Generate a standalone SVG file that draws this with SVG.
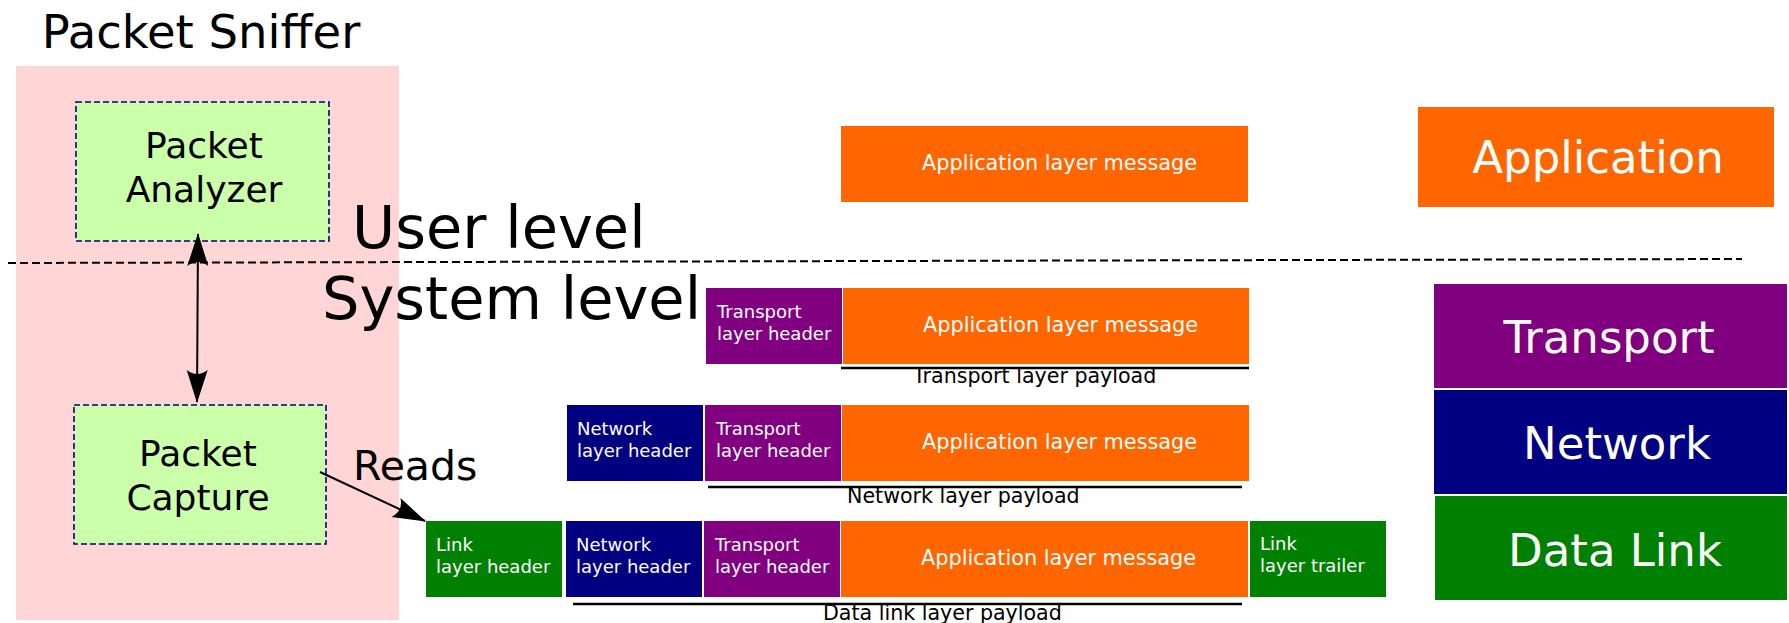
<svg xmlns="http://www.w3.org/2000/svg" width="1789" height="623" viewBox="0 0 1789 623">
<style>
text{font-family:"DejaVu Sans","Liberation Sans",sans-serif}
.big{font-size:59px;fill:#000}
.hdr{font-size:18px;fill:#fff}
.msg{font-size:20.8px;fill:#fff}
.pay{font-size:20.6px;fill:#000}
.layer{font-size:45px;fill:#fff;text-anchor:middle}
.node{font-size:36px;fill:#000;text-anchor:middle}
.comp{fill:#ccffaa;stroke:#000080;stroke-width:1.6;stroke-dasharray:6,3}
.org{fill:#ff6600}.pur{fill:#800080}.nav{fill:#000080}.grn{fill:#008000}
.ul{stroke:#000;stroke-width:2.6}
.conn{stroke:#000;stroke-width:2;fill:none}
</style>
<defs>
<marker id="ah" viewBox="0 0 34 22" refX="33" refY="11" markerWidth="34" markerHeight="22" markerUnits="userSpaceOnUse" orient="auto-start-reverse">
<path d="M34,11 L1,0.5 Q9,11 1,21.5 Z" fill="#000"/>
</marker>
</defs>
<rect id="sniffer" x="16" y="66" width="383" height="554" fill="#ffd5d5"/>
<text x="201" y="48" style="font-size:46.5px;text-anchor:middle">Packet Sniffer</text>
<g id="analyzer">
<rect class="comp" x="76" y="102" width="253" height="139"/>
<text class="node" x="204" y="158">Packet</text>
<text class="node" x="204" y="202">Analyzer</text>
</g>
<g id="capture">
<rect class="comp" x="74" y="405" width="252" height="139"/>
<text class="node" x="198" y="466">Packet</text>
<text class="node" x="198" y="510">Capture</text>
</g>
<line x1="8" y1="263" x2="1742" y2="259" stroke="#000" stroke-width="2" stroke-dasharray="8,4"/>
<text class="big" x="352" y="248">User level</text>
<text class="big" x="322" y="319">System level</text>
<text x="353" y="480" style="font-size:41px">Reads</text>
<g id="connectors">
<line class="conn" x1="198" y1="234" x2="197" y2="402" marker-start="url(#ah)" marker-end="url(#ah)"/>
<line class="conn" x1="320" y1="472" x2="425" y2="521" marker-end="url(#ah)"/>
</g>
<g id="app-msg">
<rect class="org" x="841" y="126" width="407" height="76"/>
<text class="msg" x="922" y="170">Application layer message</text>
</g>
<g id="row-transport">
<rect class="pur" x="706" y="288" width="136" height="76"/>
<text class="hdr" x="717" y="318">Transport</text>
<text class="hdr" x="717" y="340">layer header</text>
<rect class="org" x="843" y="288" width="406" height="76"/>
<text class="msg" x="923" y="332">Application layer message</text>
<line class="ul" x1="841" y1="368" x2="1249" y2="368"/>
<text class="pay" x="913" y="383">Transport layer payload</text>
</g>
<g id="row-network">
<rect class="nav" x="567" y="405" width="136" height="76"/>
<text class="hdr" x="577" y="435">Network</text>
<text class="hdr" x="577" y="457">layer header</text>
<rect class="pur" x="705" y="405" width="136" height="76"/>
<text class="hdr" x="716" y="435">Transport</text>
<text class="hdr" x="716" y="457">layer header</text>
<rect class="org" x="842" y="405" width="407" height="76"/>
<text class="msg" x="922" y="449">Application layer message</text>
<line class="ul" x1="708" y1="487" x2="1242" y2="487"/>
<text class="pay" x="847" y="503">Network layer payload</text>
</g>
<g id="row-datalink">
<rect class="grn" x="426" y="521" width="136" height="76"/>
<text class="hdr" x="436" y="551">Link</text>
<text class="hdr" x="436" y="573">layer header</text>
<rect class="nav" x="566" y="521" width="136" height="76"/>
<text class="hdr" x="576" y="551">Network</text>
<text class="hdr" x="576" y="573">layer header</text>
<rect class="pur" x="704" y="521" width="136" height="76"/>
<text class="hdr" x="715" y="551">Transport</text>
<text class="hdr" x="715" y="573">layer header</text>
<rect class="org" x="841" y="521" width="407" height="76"/>
<text class="msg" x="921" y="565">Application layer message</text>
<rect class="grn" x="1250" y="521" width="136" height="76"/>
<text class="hdr" x="1260" y="550">Link</text>
<text class="hdr" x="1260" y="572">layer trailer</text>
<line class="ul" x1="573" y1="604" x2="1242" y2="604"/>
<text class="pay" x="823" y="620">Data link layer payload</text>
</g>
<g id="layer-application">
<rect class="org" x="1418" y="107" width="356" height="100"/>
<text class="layer" x="1598" y="173">Application</text>
</g>
<g id="layer-transport">
<rect class="pur" x="1434" y="284" width="353" height="104"/>
<text class="layer" x="1609" y="353">Transport</text>
</g>
<g id="layer-network">
<rect class="nav" x="1434" y="390" width="353" height="104"/>
<text class="layer" x="1617" y="459">Network</text>
</g>
<g id="layer-datalink">
<rect class="grn" x="1435" y="496" width="352" height="104"/>
<text class="layer" x="1615" y="566">Data Link</text>
</g>
</svg>
